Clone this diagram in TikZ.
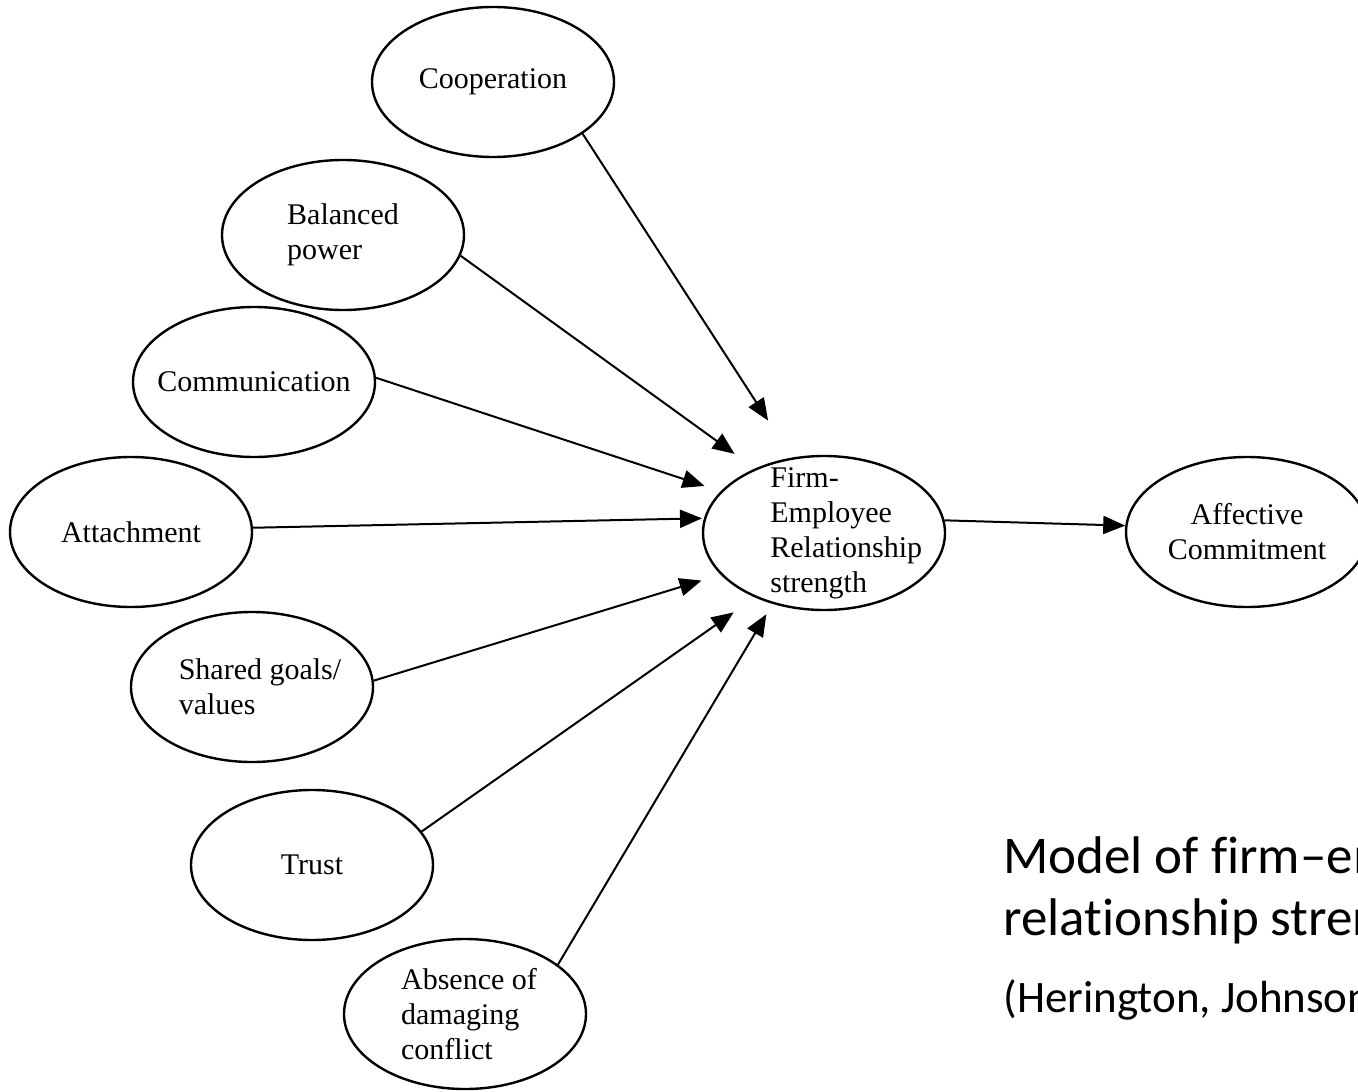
\documentclass[tikz,border=0pt]{standalone}
\usepackage{fontspec}
\setmainfont{Liberation Serif}
\newfontfamily\capfont[Ligatures=NoCommon]{Carlito}
\usetikzlibrary{shapes.geometric, arrows.meta}

\begin{document}
\begin{tikzpicture}[x=0.5pt, y=-0.5pt,
    bubble/.style={draw, ellipse, line width=1.2pt, minimum width=121pt, minimum height=75pt, inner sep=0pt},
    txt/.style={font=\fontsize{15}{17.5}\selectfont, align=left, inner sep=0pt},
    link/.style={-{Triangle[length=11pt,width=9pt]}, line width=1pt},
    captext/.style={anchor=base west, inner sep=0pt}]
    \useasboundingbox (0,0) rectangle (1358,1091);
    \clip (0,0) rectangle (1358,1091);

    % Antecedent ellipses
    \node[bubble] (coop) at (493,82) {};
    \node[bubble] (power) at (343,235) {};
    \node[bubble] (comm) at (254,382) {};
    \node[bubble] (attach) at (131,532) {};
    \node[bubble] (goals) at (252,687) {};
    \node[bubble] (trust) at (312,865) {};
    \node[bubble] (conflict) at (465,1014) {};

    % Relationship strength and outcome
    \node[bubble, minimum height=77pt] (firm) at (824,533) {};
    \node[bubble] (commit) at (1247,532) {};

    % Ellipse texts
    \node[txt] (coop-t) at (coop) {Cooperation};
    \node[txt] (power-t) at (power) {Balanced\\power};
    \node[txt] (comm-t) at (comm) {Communication};
    \node[txt] (attach-t) at (attach) {Attachment};
    \node[txt] (goals-t) at ([xshift=4pt]goals.center) {Shared goals/\\values};
    \node[txt] (trust-t) at (trust) {Trust};
    \node[txt] (conflict-t) at ([xshift=2pt]conflict.center) {Absence of\\damaging\\conflict};
    \node[txt, anchor=west] (firm-t) at ([xshift=-27pt]firm.center) {Firm-\\Employee\\Relationship\\strength};
    \node[txt, align=center] (commit-t) at (commit) {Affective\\Commitment};

    % Arrows into relationship strength
    \draw[link, shorten >=22pt] (coop.-30) -- (firm.113);
    \draw[link, shorten >=12.5pt] (power.-10) -- (firm.137);
    \draw[link, shorten >=8.5pt] (comm.2) -- (firm.158);
    \draw[link, shorten >=1pt] (attach.2) -- (firm.173);
    \draw[link, shorten >=10pt] (goals.3) -- (firm.202);
    \draw[link, shorten >=13pt] (trust.17) -- (firm.223);
    \draw[link, shorten >=6pt] (conflict.28) -- (firm.234);
    \draw[link] (firm.6) -- (commit.177);

    % Caption
    \node[captext, font=\capfont\fontsize{26.5}{31}\selectfont] (title1) at (1003,873) {Model of firm–employee};
    \node[captext, font=\capfont\fontsize{26.5}{31}\selectfont] (title2) at (1003,935) {relationship strength};
    \node[captext, font=\capfont\fontsize{22.5}{27}\selectfont] (cite) at (1003,1012) {(Herington, Johnson};
\end{tikzpicture}
\end{document}
